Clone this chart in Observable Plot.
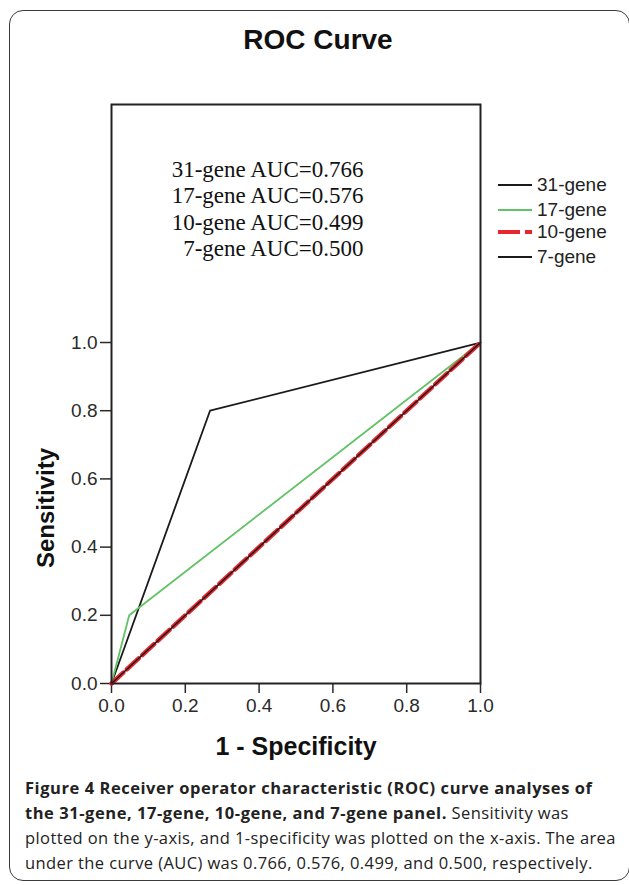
<!DOCTYPE html>
<html>
<head>
<meta charset="utf-8">
<script src="https://cdn.jsdelivr.net/npm/d3@7"></script>
<script src="https://cdn.jsdelivr.net/npm/@observablehq/plot@0.6"></script>
<style>
  html, body { margin: 0; padding: 0; background: #fff; }
  #wrap { position: relative; width: 629px; height: 885px; overflow: hidden; background: #fff; }
  #border { position: absolute; left: 9px; top: 10px; width: 621px; height: 871px;
            border: 1.5px solid #3a3a3a; border-radius: 14px; box-sizing: border-box; }
  #title { position: absolute; left: 0; top: 26px; width: 636px; text-align: center;
           font: bold 28px "Liberation Sans", Arial, sans-serif; line-height: 1; color: #111; }
  #chart { position: absolute; left: 0; top: 0; }
  #legend { position: absolute; left: 497px; top: 0; font: 19px "Liberation Sans", Arial, sans-serif; color: #222; }
  .lg { position: absolute; left: 0; white-space: nowrap; display: flex; align-items: center; height: 20px; }
  .lg svg { margin-right: 4px; }
  #caption { position: absolute; left: 25px; top: 775px; font: 16.5px "Open Sans", sans-serif;
             letter-spacing: 0.4px; line-height: 25px; color: #222; white-space: nowrap; }
  #caption b { font-weight: 700; letter-spacing: 0.55px; }
</style>
</head>
<body>
<div id="wrap">
  <div id="border"></div>
  <div id="title"></div>
  <div id="chart"></div>
  <div id="legend"></div>
  <div id="caption"></div>
</div>
<script>
// ---- data ----
const seriesNames = ["31-gene", "17-gene", "10-gene", "7-gene"];
const aucValues = [0.766, 0.576, 0.499, 0.500];
const fpr31 = [0, 0.267, 1];
const tpr31 = [0, 0.80, 1];
const fpr17 = [0, 0.048, 1];
const tpr17 = [0, 0.20, 1];
const fpr10 = [0, 1];
const tpr10 = [0, 1];
const fpr7 = [0, 1];
const tpr7 = [0, 1];
const xTicks = [0, 0.2, 0.4, 0.6, 0.8, 1.0];
const yTicks = [0, 0.2, 0.4, 0.6, 0.8, 1.0];
const titleText = "ROC Curve";
const xLabel = "1 - Specificity";
const yLabel = "Sensitivity";
const captionBold = ["Figure 4 Receiver operator characteristic (ROC) curve analyses of",
                     "the 31-gene, 17-gene, 10-gene, and 7-gene panel."];
const captionRest = [" Sensitivity was",
                     "plotted on the y-axis, and 1-specificity was plotted on the x-axis. The area",
                     "under the curve (AUC) was 0.766, 0.576, 0.499, and 0.500, respectively."];

// ---- styles ----
const styles = {
  "31-gene": {stroke: "#1a1a1a", strokeWidth: 1.8},
  "17-gene": {stroke: "#62c266", strokeWidth: 1.8},
  "10-gene": {stroke: "#e8262e", strokeWidth: 4.5, strokeDasharray: "16,5"},
  "7-gene":  {stroke: "#1a1a1a", strokeWidth: 1.4}
};

const rows = (name, xs, ys) => xs.map((x, i) => ({series: name, fpr: x, tpr: ys[i]}));
const data = {
  "31-gene": rows("31-gene", fpr31, tpr31),
  "17-gene": rows("17-gene", fpr17, tpr17),
  "10-gene": rows("10-gene", fpr10, tpr10),
  "7-gene":  rows("7-gene", fpr7, tpr7)
};

const aucText = seriesNames.map((n, i) => `${n} AUC=${aucValues[i].toFixed(3)}`).join("\n");

document.getElementById("title").textContent = titleText;

const chart = Plot.plot({
  width: 629,
  height: 780,
  marginTop: 104,
  marginLeft: 111,
  marginRight: 149,
  marginBottom: 97,
  style: {background: "transparent", fontFamily: "'Liberation Sans', Arial, sans-serif", fontSize: "19px", color: "#2a2a2a", overflow: "visible"},
  x: {domain: [0, 1]},
  y: {domain: [0, 1.698]},
  marks: [
    Plot.axisX({ticks: xTicks, tickFormat: d3.format(".1f"), tickSize: 10, tickPadding: 5, fontSize: 19, label: null, strokeWidth: 1.5}),
    Plot.axisY({ticks: yTicks, tickFormat: d3.format(".1f"), tickSize: 11, tickPadding: 3, fontSize: 19, label: null, strokeWidth: 1.5}),
    Plot.line(data["31-gene"], {x: "fpr", y: "tpr", ...styles["31-gene"]}),
    Plot.line(data["17-gene"], {x: "fpr", y: "tpr", ...styles["17-gene"]}),
    Plot.line(data["10-gene"], {x: "fpr", y: "tpr", ...styles["10-gene"]}),
    Plot.line(data["7-gene"], {x: "fpr", y: "tpr", ...styles["7-gene"]}),
    Plot.frame({stroke: "#222", strokeWidth: 2}),
    Plot.text([aucText], {text: d => d, frameAnchor: "top-right", textAnchor: "end", lineAnchor: "top",
      dx: -117, dy: 54, fontSize: 23, lineHeight: 1.143, fontFamily: "'Liberation Serif', 'Times New Roman', serif", fill: "#111"}),
    Plot.text([yLabel], {text: d => d, frameAnchor: "left", textAnchor: "middle", lineAnchor: "middle", rotate: -90, dx: -65, dy: 114,
      fontSize: 24, fontWeight: "bold", fill: "#111"}),
    Plot.text([xLabel], {text: d => d, frameAnchor: "bottom", textAnchor: "middle", lineAnchor: "middle", dy: 63,
      fontSize: 25, fontWeight: "bold", fill: "#111"})
  ]
});
document.getElementById("chart").appendChild(chart);

// ---- legend ----
const legend = document.getElementById("legend");
const rowY = [175, 200, 222, 247];
seriesNames.forEach((n, i) => {
  const s = styles[n];
  const row = document.createElement("div");
  row.className = "lg";
  row.style.top = rowY[i] + "px";
  row.innerHTML = `<svg width="36" height="20"><line x1="1" x2="35" y1="10" y2="10" stroke="${s.stroke}" stroke-width="${n === "10-gene" ? 4 : 2}" ${n === "10-gene" ? 'stroke-dasharray="22,5"' : ""}/></svg><span>${n}</span>`;
  legend.appendChild(row);
});

// ---- caption ----
document.getElementById("caption").innerHTML =
  `<b>${captionBold[0]}</b><br><b>${captionBold[1]}</b>${captionRest[0]}<br>${captionRest[1]}<br>${captionRest[2]}`;
</script>
</body>
</html>
